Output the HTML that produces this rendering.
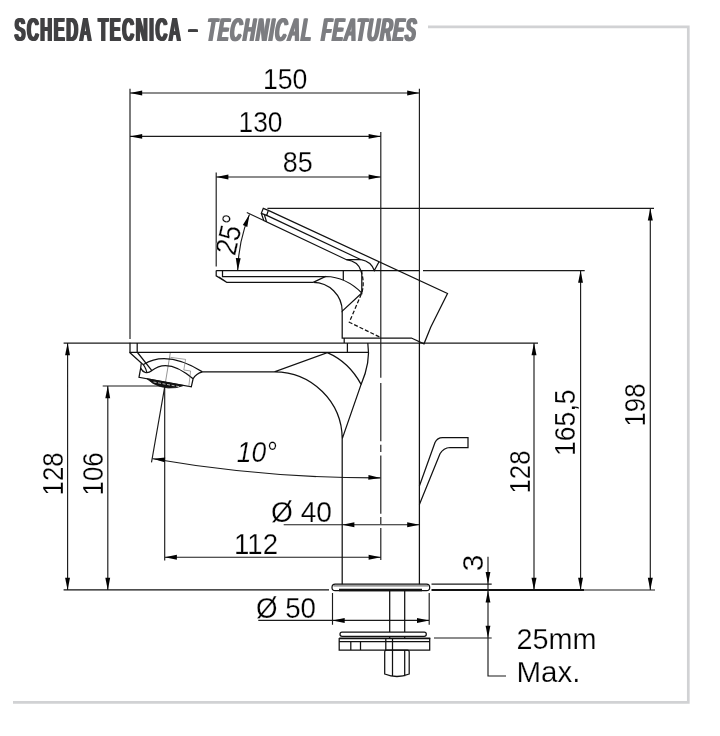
<!DOCTYPE html>
<html lang="it">
<head>
<meta charset="utf-8">
<title>Scheda tecnica - Technical features</title>
<style>
html,body{margin:0;padding:0;background:#fff;}
body{width:720px;height:736px;overflow:hidden;font-family:"Liberation Sans",sans-serif;}
svg{display:block;}
.l{stroke:#111;stroke-width:1.25;fill:none;stroke-linecap:butt;stroke-linejoin:miter;}
.d{stroke:#1a1a1a;stroke-width:1.15;fill:none;}
.a{fill:#000;stroke:none;}
.t{font-family:"Liberation Sans",sans-serif;font-size:30px;fill:#000;stroke:#fff;stroke-width:.25;}
.h{font-family:"Liberation Sans",sans-serif;font-weight:bold;font-size:32.8px;}
</style>
</head>
<body>
<svg width="720" height="736" viewBox="0 0 720 736">
<defs>
<filter id="fx" x="-2%" y="-10%" width="104%" height="120%"><feOffset in="SourceGraphic" dx="0.55" result="a"/><feOffset in="SourceGraphic" dx="-0.55" result="b"/><feMerge><feMergeNode in="a"/><feMergeNode in="b"/><feMergeNode in="SourceGraphic"/></feMerge></filter>
</defs>

<!-- frame -->
<polyline points="428,26.8 688.3,26.8 688.3,702.3 13,702.3" fill="none" stroke="#d1d2d4" stroke-width="2.7"/>

<!-- heading -->
<g class="h" filter="url(#fx)">
<text transform="translate(14.4,40.8) scale(0.5,1)" fill="#414042" textLength="154.0" lengthAdjust="spacing">SCHEDA</text>
<text transform="translate(98.2,40.8) scale(0.5,1)" fill="#414042" textLength="165.0" lengthAdjust="spacing">TECNICA</text>
<text transform="translate(206.2,40.8) skewX(-4) scale(0.5,1)" fill="#7c7d81" font-style="italic" textLength="209.0" lengthAdjust="spacing">TECHNICAL</text>
<text transform="translate(321,40.8) skewX(-4) scale(0.5,1)" fill="#7c7d81" font-style="italic" textLength="189.0" lengthAdjust="spacing">FEATURES</text>
<text transform="translate(187.6,39.6)" fill="#414042" style="font-weight:normal">-</text>
</g>

<!-- DIMENSIONS -->
<g id="dims" opacity=".995">
<!-- extension lines top -->
<path class="d" d="M130 88.8V339 M419.4 88.8V343 M380.8 132V377.7 M216.2 172.5V266.6"/>
<!-- centre line -->
<path class="d" d="M380.8 383V441.3 M380.8 444.8V452 M380.8 455.4V513.7 M380.8 517V524 M380.8 528V560"/>
<!-- 150 -->
<path class="d" d="M130 93H419.4"/>
<polygon class="a" points="130,93 142.2,95.5 142.2,90.5"/>
<polygon class="a" points="419.4,93 407.2,90.5 407.2,95.5"/>
<text class="t" x="285.2" y="88.6" text-anchor="middle" textLength="44.5" lengthAdjust="spacingAndGlyphs">150</text>
<!-- 130 -->
<path class="d" d="M130 136.4H380.8"/>
<polygon class="a" points="130,136.4 142.2,138.8 142.2,133.9"/>
<polygon class="a" points="380.8,136.4 368.6,133.9 368.6,138.8"/>
<text class="t" x="260.5" y="132.4" text-anchor="middle" textLength="44" lengthAdjust="spacingAndGlyphs">130</text>
<!-- 85 -->
<path class="d" d="M216.2 177H380.8"/>
<polygon class="a" points="216.2,177 228.4,179.4 228.4,174.6"/>
<polygon class="a" points="380.8,177 368.6,174.6 368.6,179.4"/>
<text class="t" x="297.8" y="172" text-anchor="middle" textLength="30" lengthAdjust="spacingAndGlyphs">85</text>

<!-- right side: 198 / 165,5 / 128 -->
<path class="d" d="M267.4 208.4H654 M423 270.6H584.7 M63.6 343.1H538"/>
<path class="d" d="M650.3 208.4V590 M580.6 270.6V590 M534 343.1V590"/>
<polygon class="a" points="650.3,208.4 647.8,220.6 652.8,220.6"/>
<polygon class="a" points="650.3,590 652.8,577.8 647.8,577.8"/>
<polygon class="a" points="580.6,270.6 578.1,282.8 583,282.8"/>
<polygon class="a" points="580.6,590 583,577.8 578.1,577.8"/>
<polygon class="a" points="534,343.1 531.5,355.3 536.5,355.3"/>
<polygon class="a" points="534,590 536.5,577.8 531.5,577.8"/>
<text class="t" transform="translate(645,405) rotate(-90)" text-anchor="middle" textLength="43" lengthAdjust="spacingAndGlyphs">198</text>
<text class="t" transform="translate(575,422.7) rotate(-90)" text-anchor="middle" textLength="66.5" lengthAdjust="spacingAndGlyphs">165,5</text>
<text class="t" transform="translate(530,472) rotate(-90)" text-anchor="middle" textLength="43" lengthAdjust="spacingAndGlyphs">128</text>
<!-- base line right -->
<path d="M431.5 589.9H584" stroke="#111" stroke-width="2" fill="none"/>
<path class="d" d="M584 590H655 M431.5 584.1H491.7 M434 638H491.7"/>

<!-- left side: 128 / 106 -->
<path d="M63.6 589.8H329" stroke="#111" stroke-width="1.3" fill="none"/>
<path class="d" d="M67.6 343.1V590 M107.8 386V590 M102.7 386H163"/>
<polygon class="a" points="67.6,343.1 65.1,355.3 70,355.3"/>
<polygon class="a" points="67.6,590 70,577.8 65.1,577.8"/>
<polygon class="a" points="107.8,386 105.3,398.2 110.2,398.2"/>
<polygon class="a" points="107.8,590 110.2,577.8 105.3,577.8"/>
<text class="t" transform="translate(63.3,473.9) rotate(-90)" text-anchor="middle" textLength="43" lengthAdjust="spacingAndGlyphs">128</text>
<text class="t" transform="translate(103,473.9) rotate(-90)" text-anchor="middle" textLength="43" lengthAdjust="spacingAndGlyphs">106</text>

<!-- 112 -->
<path class="d" d="M164.7 387V560.5 M164.7 557.2H380.8"/>
<polygon class="a" points="164.7,557.2 176.9,559.7 176.9,554.8"/>
<polygon class="a" points="380.8,557.2 368.6,554.8 368.6,559.7"/>
<text class="t" x="256" y="554" text-anchor="middle" textLength="44" lengthAdjust="spacingAndGlyphs">112</text>

<!-- 10 deg -->
<path d="M170.3 352.8L164.7 386.9" stroke="#666" stroke-width=".7" fill="none"/>
<path class="d" d="M164.7 386.9L151.5 462.3 M152.8 458.7A1310 1310 0 0 0 380.6 477.9"/>
<polygon class="a" points="152.8,458.7 164.7,462.3 165.2,457.4"/>
<polygon class="a" points="380.6,477.9 368.5,474.9 368.3,479.8"/>
<text class="t" x="256.8" y="461.8" text-anchor="middle" font-style="italic" textLength="40" lengthAdjust="spacingAndGlyphs">10°</text>

<!-- dia 40 -->
<path class="d" d="M283.7 524.7H419.4"/>
<polygon class="a" points="342.2,524.7 354.4,527.2 354.4,522.2"/>
<polygon class="a" points="419.4,524.7 407.2,522.2 407.2,527.2"/>
<text class="t" x="271" y="522" textLength="61" lengthAdjust="spacingAndGlyphs">Ø 40</text>

<!-- dia 50 -->
<path class="d" d="M258.3 620.4H429.2 M332.5 593V624.7 M429.2 593V624.7"/>
<polygon class="a" points="332.5,620.4 344.7,622.9 344.7,618"/>
<polygon class="a" points="429.2,620.4 417,618 417,622.9"/>
<text class="t" x="256" y="617.8" textLength="60" lengthAdjust="spacingAndGlyphs">Ø 50</text>

<!-- 3 and 25mm -->
<path class="d" d="M488 556.7V676H506"/>
<polygon class="a" points="488,584.1 490.4,571.9 485.6,571.9"/>
<polygon class="a" points="488,590.4 485.6,602.6 490.4,602.6"/>
<polygon class="a" points="488,638 490.4,625.8 485.6,625.8"/>
<text class="t" transform="translate(483,562.8) rotate(-90)" text-anchor="middle">3</text>
<text class="t" x="516.5" y="649.2" textLength="80" lengthAdjust="spacingAndGlyphs">25mm</text>
<text class="t" x="516.5" y="682.4" textLength="64" lengthAdjust="spacingAndGlyphs">Max.</text>

<!-- 25 deg -->
<path class="d" d="M246.8 212.4L263.8 220.6 M249.4 214.6Q238.5 241 237.7 270.4"/>
<polygon class="a" points="249.4,214.6 242.8,225.1 247.3,226.9"/>
<polygon class="a" points="237.7,270.4 240.7,258.3 235.8,258.1"/>
<text class="t" transform="translate(235,256.5) rotate(-77)" textLength="40" lengthAdjust="spacingAndGlyphs">25°</text>
</g>

<!-- FAUCET DRAWING -->
<g id="faucet">
<!-- raised handle -->
<path class="l" d="M268.3 210.4L447.5 293.5L430.7 327.3L424 343.8L411.4 338H342.2V311.1"/>
<path class="l" d="M263.3 208.3L268.3 210.4L266.7 215.4L261.3 213.3Z M261.3 213.3L263.8 220.6L346.5 259.7H361.1 M264.3 214.6L266.6 221.9"/>
<path class="l" d="M266.7 215.4L361.1 259.7"/>
<path class="l" d="M346.5 259.7Q358 261.5 360.8 270.5 M361.1 259.7Q371 261.5 374.3 270.5L378.9 262"/>
<path class="l" stroke-dasharray="4 2" d="M360.8 270.5Q365 282 361.8 293L349.3 322.2L380.7 337.5"/>
<!-- lowered handle -->
<path class="l" d="M216.2 270.5H419.4 M216.2 270.5V275.8L226.8 282.4H313.2 M222.5 270.5V276.5H325.7 M219 277L226 281.7"/>
<path class="l" d="M313.2 282.4L325.7 276.5Q346 277 361.8 293V270.5 M313.2 282.4A29 29 0 0 1 342.2 311.1L361.8 293 M343.3 270.5V280"/>
<path class="l" d="M344.2 338V343 M347.4 343V352.5"/>
<!-- body + spout -->
<path class="l" d="M130 342.8V352.3 M137.2 343V352.3 M129.2 352.4H368.9"/>
<path class="l" d="M202.5 371.8H274.4L327.3 352.6Q349 362 361.1 384.4L342.2 438.9V584.2 M274.4 371.8A67.8 67.1 0 0 1 342.2 438.9"/>
<path class="l" d="M367.8 343Q370.8 362 361.1 384.4 M419.4 343V584.2"/>
<!-- spout tip + aerator -->
<path class="l" d="M129.7 352.5L141.3 363.1L140.6 368.5L139 377.3L191.3 386.9L193.1 378.8Q196 373.5 202.5 371.9"/>
<path class="l" d="M137.5 352.5L151.9 370.6Q168 357.3 193.1 378.8 M143.5 364.5Q167 350 202.5 371.9 M140.6 368.1C143 372.5 147 374.6 151.9 370.6 M141.3 363.1Q145.5 366 146.8 372.6"/>
<path d="M146.9 378.7L183.8 385.5Q168 391.5 153 383.4Z" fill="#111" stroke="#111" stroke-width=".8"/>
<path d="M153.5 382L180 386.8" stroke="#fff" stroke-width=".7" stroke-dasharray="3 1.6" fill="none"/>
<path stroke="#666" stroke-width=".6" fill="none" d="M170.3 357.3L185.6 359.4L183.8 370L190.6 371L188.8 386.5"/>
<!-- lever -->
<path class="l" d="M419.4 486L435 442.5Q437.3 437.5 442.5 437.5H468V447.5H450Q443.5 447.8 440 453.8L419.4 504.6"/>
<!-- flange -->
<rect class="l" x="332" y="584.2" width="97.7" height="6.4" rx="3.2"/>
<path d="M339 590H422" stroke="#111" stroke-width="2.5" fill="none"/>
<path d="M333.5 585.9H428.6" stroke="#777" stroke-width="1.4" fill="none"/>
<!-- rod -->
<path class="l" d="M389.7 591V632 M404.7 591V632 M389.7 636.5V638 M404.7 636.5V638"/>
<!-- washer -->
<rect class="l" x="340" y="632.2" width="86.3" height="4.1" rx="2.05"/>
<!-- plate -->
<path d="M339.2 638.4H430.3" stroke="#111" stroke-width="1.8" fill="none"/>
<path class="l" d="M339.2 638V650H429.7V638 M339.2 641.7H430.3 M350.8 641.7V650 M360.5 641.7V650 M385.8 639V650 M392.5 639V650"/>
<!-- nut -->
<path class="l" d="M384.7 652Q384.7 650 386.5 650H407.4Q409.2 650 409.2 652V674Q397 679 384.7 674Z M392.5 650V676.3 M404.7 650V676.3"/>
</g>
</svg>
</body>
</html>
